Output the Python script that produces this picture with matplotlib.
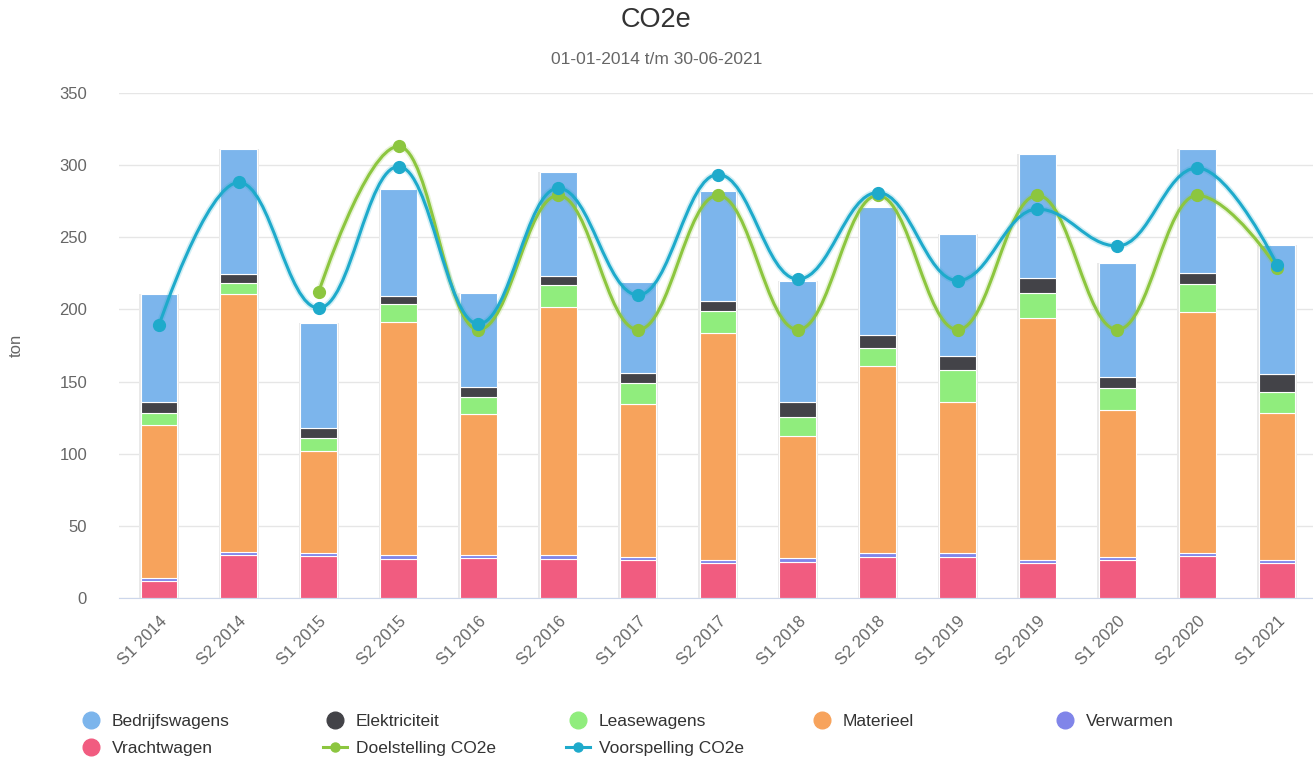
import numpy as np
import matplotlib
matplotlib.use('Agg')
import matplotlib.pyplot as plt
from matplotlib.path import Path
from matplotlib.patches import PathPatch
from matplotlib.lines import Line2D

plt.rcParams['font.family'] = ['Liberation Sans', 'DejaVu Sans']

periods = ['S1 2014', 'S2 2014', 'S1 2015', 'S2 2015', 'S1 2016', 'S2 2016', 'S1 2017', 'S2 2017',
           'S1 2018', 'S2 2018', 'S1 2019', 'S2 2019', 'S1 2020', 'S2 2020', 'S1 2021']

# stacked from the bottom up
vrachtwagen    = [12, 30, 29, 27, 27.5, 27, 26, 24, 25, 28.5, 28.5, 24, 26, 29, 24]
verwarmen      = [2, 2, 2, 2.5, 2.5, 2.5, 2.5, 2, 2.5, 2.5, 2.5, 2.5, 2.5, 2, 2.5]
materieel      = [106, 178.5, 71, 162, 97.5, 172, 106, 158, 84.5, 129.5, 104.5, 167.5, 102, 167.5, 101.5]
leasewagens    = [8.5, 7.5, 9, 12, 12, 15.5, 14.5, 15, 13.5, 13, 22.5, 17.5, 15, 19, 14.5]
elektriciteit  = [7, 6.5, 6.5, 6, 7, 6.5, 7, 7, 10, 9, 10, 10, 8, 8, 13]
bedrijfswagens = [75.5, 87, 73, 74, 65, 72, 63, 76, 84, 88.5, 84, 86, 79, 86, 89]

doelstelling = [None, None, 212, 313, 186, 279, 186, 279, 186, 279, 186, 279, 186, 279, 229]
voorspelling = [189, 288, 201, 299, 190, 284, 210, 293.5, 221, 281, 220, 269.5, 244, 298, 231]

stack = [
    ('Vrachtwagen', vrachtwagen, '#f15c80'),
    ('Verwarmen', verwarmen, '#8085e9'),
    ('Materieel', materieel, '#f7a35c'),
    ('Leasewagens', leasewagens, '#90ed7d'),
    ('Elektriciteit', elektriciteit, '#434348'),
    ('Bedrijfswagens', bedrijfswagens, '#7cb5ec'),
]
green = '#8cc63f'
cyan = '#1eaacb'


def spline_path(xs, ys):
    # Highcharts-like spline (smoothing 1.5)
    pts = [(x, y) for x, y in zip(xs, ys) if y is not None]
    n = len(pts)
    sm = 1.5
    den = sm + 1
    left = [None] * n
    right = [None] * n
    for i in range(n):
        px, py = pts[i]
        if 0 < i < n - 1:
            lx, ly = pts[i - 1]
            nx, ny = pts[i + 1]
            lcx = (sm * px + lx) / den
            lcy = (sm * py + ly) / den
            rcx = (sm * px + nx) / den
            rcy = (sm * py + ny) / den
            corr = 0
            if rcx != lcx:
                corr = (rcy - lcy) * (rcx - px) / (rcx - lcx) + py - rcy
            lcy += corr
            rcy += corr
            if lcy > ly and lcy > py:
                lcy = max(ly, py); rcy = 2 * py - lcy
            elif lcy < ly and lcy < py:
                lcy = min(ly, py); rcy = 2 * py - lcy
            if rcy > ny and rcy > py:
                rcy = max(ny, py); lcy = 2 * py - rcy
            elif rcy < ny and rcy < py:
                rcy = min(ny, py); lcy = 2 * py - rcy
            left[i] = (lcx, lcy)
            right[i] = (rcx, rcy)
        else:
            left[i] = (px, py)
            right[i] = (px, py)
    verts = [pts[0]]
    codes = [Path.MOVETO]
    for i in range(1, n):
        verts += [right[i - 1], left[i], pts[i]]
        codes += [Path.CURVE4] * 3
    return Path(verts, codes), pts


W, H = 1313, 760
fig = plt.figure(figsize=(W / 100, H / 100), dpi=100)
ax = fig.add_axes([119 / W, 162 / H, 1194 / W, 505 / H])

x = np.arange(len(periods))
totals = np.sum([s[1] for s in stack], axis=0)
ax.bar(x, totals, width=0.5, color='#e9e9e9', zorder=1)
bottom = np.zeros(len(periods))
for name, vals, col in stack:
    ax.bar(x, vals, bottom=bottom, width=0.46, color=col, edgecolor='white', linewidth=0.8, zorder=2)
    bottom += np.array(vals)

for vals, col in [(doelstelling, green), (voorspelling, cyan)]:
    path, pts = spline_path(x, vals)
    ax.add_patch(PathPatch(path, facecolor='none', edgecolor=col, lw=4.5, alpha=0.2, zorder=3))
    ax.add_patch(PathPatch(path, facecolor='none', edgecolor=col, lw=2.2, zorder=4))
    px, py = zip(*pts)
    ax.plot(px, py, 'o', color=col, ms=8.5, zorder=5)

ax.set_xlim(-0.5, 14.45)
ax.set_ylim(0, 350)
ax.set_yticks(range(0, 351, 50))
ax.grid(axis='y', color='#e6e6e6', lw=1)
ax.set_axisbelow(True)
for s in ['top', 'right', 'left']:
    ax.spines[s].set_visible(False)
ax.spines['bottom'].set_color('#ccd6eb')
ax.tick_params(axis='y', length=0, pad=23, labelsize=12, labelcolor='#666666')
ax.tick_params(axis='x', length=0, pad=11, labelsize=12, labelcolor='#666666')
ax.set_xticks(x)
ax.set_xticklabels(periods, rotation=45, ha='right', va='top', rotation_mode='anchor')

fig.text(16 / W, 1 - 345 / H, 'ton', rotation=90, ha='center', va='center', fontsize=12, color='#666666')
fig.text(0.5, 1 - 20 / H, 'CO2e', ha='center', va='center', fontsize=19.5, color='#333333')
fig.text(0.5, 1 - 60 / H, '01-01-2014 t/m 30-06-2021', ha='center', va='center', fontsize=12.5, color='#666666')

# legend, laid out row by row like the original
legend_items = [
    ('Bedrijfswagens', '#7cb5ec', 'dot'), ('Elektriciteit', '#434348', 'dot'),
    ('Leasewagens', '#90ed7d', 'dot'), ('Materieel', '#f7a35c', 'dot'),
    ('Verwarmen', '#8085e9', 'dot'), ('Vrachtwagen', '#f15c80', 'dot'),
    ('Doelstelling CO2e', green, 'line'), ('Voorspelling CO2e', cyan, 'line'),
]
lax = fig.add_axes([0, 0, 1, 1], zorder=-1)
lax.set_xlim(0, W)
lax.set_ylim(H, 0)
lax.axis('off')
for i, (name, col, kind) in enumerate(legend_items):
    cx = 91 + 243.5 * (i % 5)
    cy = 720 + 27 * (i // 5)
    if kind == 'dot':
        lax.plot(cx, cy, 'o', color=col, ms=12)
    else:
        lax.add_line(Line2D([cx - 12, cx + 12], [cy, cy], color=col, lw=2.2))
        lax.plot(cx, cy, 'o', color=col, ms=6.5)
    lax.text(cx + 21, cy, name, ha='left', va='center_baseline', fontsize=12.5, color='#333333')

fig.savefig('out.png', dpi=100)
